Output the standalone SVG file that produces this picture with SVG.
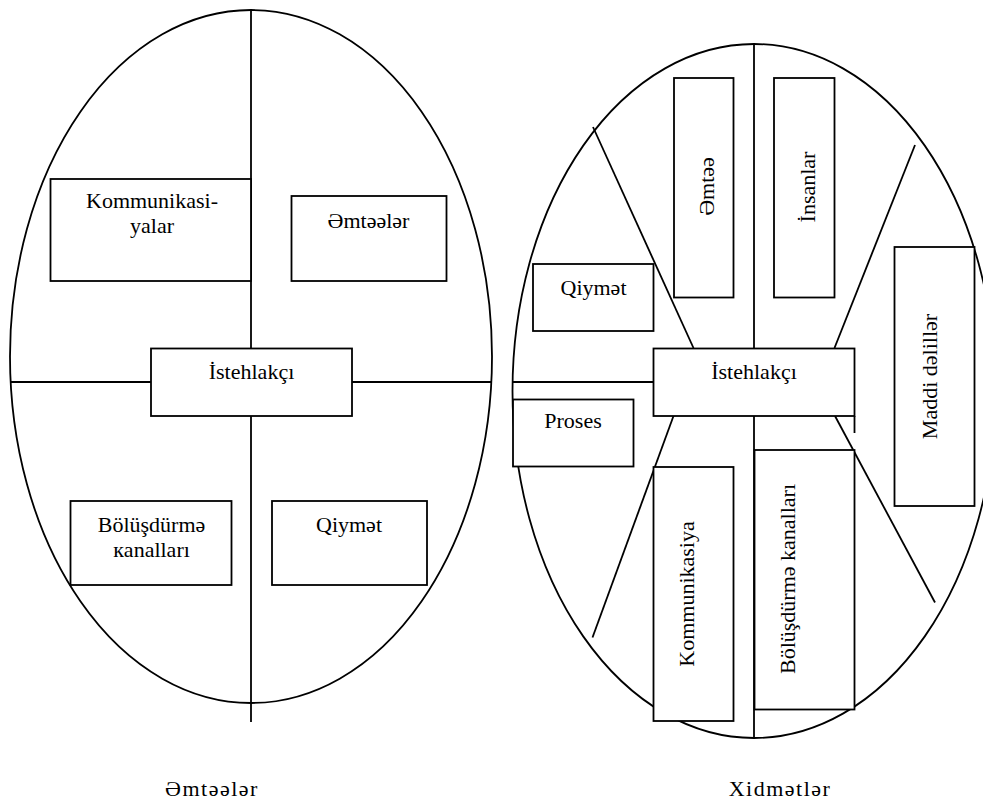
<svg xmlns="http://www.w3.org/2000/svg" width="983" height="802" viewBox="0 0 983 802">
  <style>
    .frame { fill: none; stroke: #000; stroke-width: 1.8; }
    .box { fill: #fff; stroke: #000; stroke-width: 1.8; }
    .ln { stroke: #000; stroke-width: 1.8; fill: none; }
    text { font-family: "Liberation Serif", "Times New Roman", serif; font-size: 22px; fill: #000; text-anchor: middle; }
    .caption { letter-spacing: 1.5px; }
  </style>
  <rect width="983" height="802" fill="#fff"/>

  <!-- Goods: four-quadrant model -->
  <g id="goods-frame">
    <ellipse class="frame" cx="251" cy="356.5" rx="241" ry="346.5"/>
  </g>
  <g id="goods-connectors">
    <line class="ln" x1="251" y1="10" x2="251" y2="348"/>
    <line class="ln" x1="251" y1="416" x2="251" y2="722"/>
    <line class="ln" x1="11" y1="382" x2="151" y2="382"/>
    <line class="ln" x1="352" y1="382" x2="492" y2="382"/>
  </g>
  <g id="goods-communication">
    <rect class="box" x="50.5" y="179" width="200.5" height="102"/>
    <text x="152" y="208">Kommunikasi-</text>
    <text x="152" y="233">yalar</text>
  </g>
  <g id="goods-products">
    <rect class="box" x="291.5" y="196" width="155" height="85"/>
    <text x="368.5" y="228">Əmtəələr</text>
  </g>
  <g id="goods-consumer">
    <rect class="box" x="151" y="348.5" width="201" height="67.5"/>
    <text x="251.5" y="379">İstehlakçı</text>
  </g>
  <g id="goods-distribution">
    <rect class="box" x="70.5" y="501" width="161" height="84"/>
    <text x="151.5" y="532">Bölüşdürmə</text>
    <text x="151.5" y="557">кanalları</text>
  </g>
  <g id="goods-price">
    <rect class="box" x="272" y="501" width="155" height="84"/>
    <text x="349" y="532">Qiymət</text>
  </g>
  <g id="goods-caption">
    <text class="caption" x="212" y="796">Əmtəələr</text>
  </g>

  <!-- Services: extended model -->
  <g id="services-frame">
    <ellipse class="frame" cx="754" cy="391" rx="241.5" ry="347"/>
  </g>
  <g id="services-connectors">
    <line class="ln" x1="754" y1="44" x2="754" y2="348"/>
    <line class="ln" x1="754" y1="416" x2="754" y2="738"/>
    <line class="ln" x1="512.5" y1="382" x2="653" y2="382"/>
    <line class="ln" x1="593" y1="127" x2="693.5" y2="348"/>
    <line class="ln" x1="915" y1="145" x2="834.5" y2="348"/>
    <line class="ln" x1="673.5" y1="416" x2="592.5" y2="637.5"/>
    <line class="ln" x1="835" y1="416" x2="935" y2="602.5"/>
    <line class="ln" x1="854.5" y1="416" x2="854.5" y2="433"/>
  </g>
  <g id="services-product">
    <rect class="box" x="674" y="78" width="59.5" height="219.5"/>
    <text x="713.5" y="186.5" transform="rotate(-90 713.5 186.5)">Əmtəə</text>
  </g>
  <g id="services-people">
    <rect class="box" x="774" y="78" width="60.5" height="219.5"/>
    <text x="815" y="187" transform="rotate(-90 815 187)">İnsanlar</text>
  </g>
  <g id="services-physical-evidence">
    <rect class="box" x="894.5" y="247" width="80" height="259"/>
    <text x="936.5" y="376.5" transform="rotate(-90 936.5 376.5)">Maddi dəlillər</text>
  </g>
  <g id="services-price">
    <rect class="box" x="533" y="264" width="120.5" height="67"/>
    <text x="593.5" y="295">Qiymət</text>
  </g>
  <g id="services-consumer">
    <rect class="box" x="653.5" y="348.5" width="201" height="67.5"/>
    <text x="754" y="378.5">İstehlakçı</text>
  </g>
  <g id="services-process">
    <rect class="box" x="513" y="399.5" width="120.5" height="67"/>
    <text x="573" y="428">Proses</text>
  </g>
  <g id="services-communication">
    <rect class="box" x="653.5" y="467" width="80" height="254"/>
    <text x="694" y="594" transform="rotate(-90 694 594)">Kommunikasiya</text>
  </g>
  <g id="services-distribution">
    <rect class="box" x="754.5" y="450" width="100" height="259.5"/>
    <text x="795" y="579" transform="rotate(-90 795 579)">Bölüşdürmə kanalları</text>
  </g>
  <g id="services-caption">
    <text class="caption" x="780" y="796">Xidmətlər</text>
  </g>
</svg>
